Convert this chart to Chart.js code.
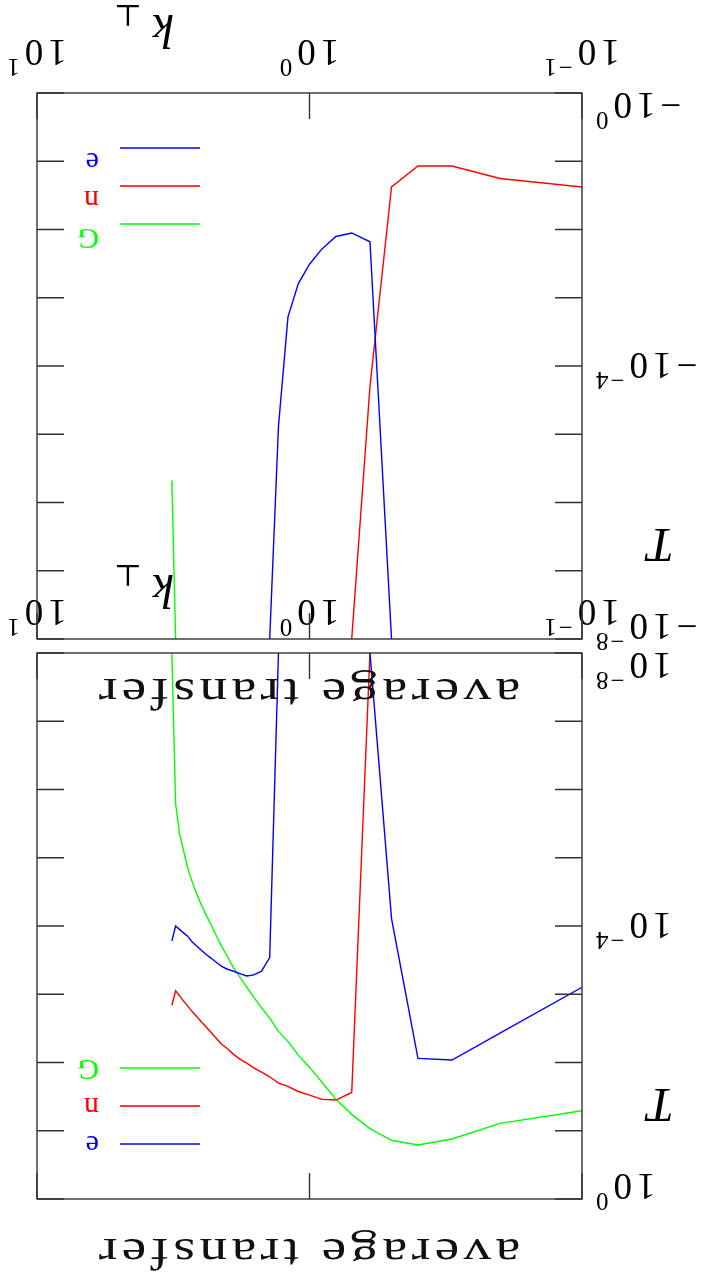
<!DOCTYPE html>
<html>
<head>
<meta charset="utf-8">
<script src="https://cdn.jsdelivr.net/npm/chart.js@4.4.1/dist/chart.umd.min.js"></script>
<style>
html, body { margin: 0; padding: 0; background: #fff; overflow: hidden; }
#fig { position: relative; width: 704px; height: 1279px; overflow: hidden; background: #fff; transform: rotate(180deg); }
#fig canvas { position: absolute; left: 0; }
#posChart { top: 0; }
#negChart { top: 560px; }
</style>
</head>
<body>
<div id="fig">
  <canvas id="posChart" width="704" height="720"></canvas>
  <canvas id="negChart" width="704" height="720"></canvas>
</div>
<script>
// perpendicular wavenumber grid
var kPerp = [0.1, 0.2, 0.3, 0.4, 0.5, 0.6, 0.7, 0.8, 0.9, 1.0,
             1.1, 1.2, 1.3, 1.4, 1.5, 1.6, 1.7, 1.8, 1.9, 2.0,
             2.1, 2.2, 2.3, 2.4, 2.5, 2.6, 2.7, 2.8, 2.9, 3.0,
             3.1, 3.2];

// average transfer T (signed) for each species
var transferE = [7.9e-4, 3.7e-3, 9.2e-3, 8.7e-3, 7.8e-5, -6.6e-3, -8.9e-3, -7.9e-3, -5.2e-3, -3.1e-3,
                 -1.6e-3, -5.2e-4, -1.3e-5, 2.9e-4, 4.6e-4, 5.2e-4, 5.4e-4, 5.0e-4, 4.6e-4, 4.3e-4,
                 3.9e-4, 3.4e-4, 2.95e-4, 2.6e-4, 2.24e-4, 1.95e-4, 1.7e-4, 1.41e-4, 1.26e-4, 1.12e-4,
                 1.0e-4, 1.66e-4];
var transferN = [-4.2e-2, -5.6e-2, -8.5e-2, -8.5e-2, -4.2e-2, -5.0e-5, 2.75e-2, 3.55e-2, 3.47e-2, 3.0e-2,
                 2.66e-2, 2.24e-2, 2.0e-2, 1.62e-2, 1.38e-2, 1.2e-2, 1.02e-2, 8.9e-3, 7.6e-3, 6.3e-3,
                 5.4e-3, 4.4e-3, 3.6e-3, 3.0e-3, 2.5e-3, 2.1e-3, 1.78e-3, 1.48e-3, 1.26e-3, 1.05e-3,
                 8.9e-4, 1.45e-3];
var transferG = [5.1e-2, 7.8e-2, 0.132, 0.162, 0.138, 9.3e-2, 5.75e-2, 3.47e-2, 1.95e-2, 1.17e-2,
                 7.8e-3, 4.9e-3, 3.5e-3, 2.24e-3, 1.58e-3, 1.11e-3, 7.85e-4, 5.6e-4, 4.1e-4, 2.8e-4,
                 2.0e-4, 1.38e-4, 9.5e-5, 6.8e-5, 4.8e-5, 3.3e-5, 2.2e-5, 1.41e-5, 7.8e-6, 4.4e-6,
                 1.62e-6, -2.1e-6];

var speciesNames = ['e', 'n', 'G'];
var speciesColors = ['#0000ff', '#ff0000', '#00ff00'];
var speciesValues = [transferE, transferN, transferG];

var xTickValues = [0.1, 1, 10];
var xTickExps = ['\u22121', '0', '1'];
var yTickExps = [0, -4, -8];

var FLOOR = 1e-8;
var SERIF = "'Liberation Serif', 'DejaVu Serif', serif";

// values of one sign, the rest pushed down to the bottom of the log axis
function sideData(values, sign) {
  return kPerp.map(function (k, i) {
    var v = values[i] * sign;
    return { x: k, y: v > 0 ? v : FLOOR };
  });
}

// text drawn a bit wider than the font, with extra tracking
function wideText(ctx, txt, x, y, spacing, stretch, align) {
  ctx.letterSpacing = spacing + 'px';
  var w = (ctx.measureText(txt).width - spacing) * stretch;
  var x0 = align === 'center' ? x - w / 2 : (align === 'right' ? x - w : x);
  ctx.save();
  ctx.translate(x0, y);
  ctx.scale(stretch, 1);
  ctx.textAlign = 'left';
  ctx.fillText(txt, 0, 0);
  ctx.restore();
  ctx.letterSpacing = '0px';
  return w;
}

// "10" with a raised exponent
function powerLabel(ctx, base, exp, x, baseline, align) {
  ctx.font = '37px ' + SERIF;
  ctx.letterSpacing = '5px';
  var wb = ctx.measureText(base).width - 5;
  ctx.font = '25px ' + SERIF;
  ctx.letterSpacing = '2px';
  var we = ctx.measureText(exp).width - 2;
  var total = wb + 5 + we;
  var x0 = align === 'center' ? x - total / 2 : x - total;
  ctx.textAlign = 'left';
  ctx.textBaseline = 'alphabetic';
  ctx.font = '37px ' + SERIF;
  ctx.letterSpacing = '5px';
  ctx.fillText(base, x0, baseline);
  ctx.font = '25px ' + SERIF;
  ctx.letterSpacing = '2px';
  ctx.fillText(exp, x0 + wb + 5, baseline - 19);
  ctx.letterSpacing = '0px';
}

function framePlugin(negative) {
  return {
    id: 'frame',
    afterDatasetsDraw: function (chart) {
      var ctx = chart.ctx, a = chart.chartArea;
      var xs = chart.scales.x, ys = chart.scales.y;
      ctx.save();
      ctx.strokeStyle = '#333';
      ctx.lineWidth = 1.4;
      ctx.strokeRect(a.left, a.top, a.right - a.left, a.bottom - a.top);

      // inward decade ticks on all four sides
      ctx.beginPath();
      for (var p = -8; p <= 0; p++) {
        var y = ys.getPixelForValue(Math.pow(10, p));
        ctx.moveTo(a.left, y); ctx.lineTo(a.left + 27, y);
        ctx.moveTo(a.right, y); ctx.lineTo(a.right - 27, y);
      }
      xTickValues.forEach(function (v) {
        var x = xs.getPixelForValue(v);
        ctx.moveTo(x, a.top); ctx.lineTo(x, a.top + 26);
        ctx.moveTo(x, a.bottom); ctx.lineTo(x, a.bottom - 26);
      });
      ctx.stroke();

      ctx.fillStyle = '#000';
      // y tick labels
      yTickExps.forEach(function (e) {
        var y = ys.getPixelForValue(Math.pow(10, e));
        var base = y;
        if (Math.abs(y - a.top) < 2) base = y + 25;
        else if (Math.abs(y - a.bottom) >= 2) base = y + 12.5;
        var expTxt = e < 0 ? '\u2212' + (-e) : String(e);
        powerLabel(ctx, negative ? '\u221210' : '10', expTxt, a.left - 14, base, 'right');
      });
      // x tick labels
      xTickValues.forEach(function (v, i) {
        powerLabel(ctx, '10', xTickExps[i], xs.getPixelForValue(v), a.bottom + 53, 'center');
      });

      // titles
      ctx.textBaseline = 'alphabetic';
      ctx.fillStyle = '#111';
      ctx.font = '44px ' + SERIF;
      wideText(ctx, 'average transfer', (a.left + a.right) / 2, a.top - 40, 3.5, 1.26, 'center');
      ctx.fillStyle = '#000';
      ctx.font = 'italic 48px ' + SERIF;
      ctx.textAlign = 'left';
      ctx.fillText('T', 30, a.top + 110);
      ctx.fillText('k', 530, a.bottom + 78);
      ctx.font = "30px 'DejaVu Serif', serif";
      ctx.fillText('\u22a5', 562, a.bottom + 88);

      // legend
      ctx.lineWidth = 1.4;
      ctx.font = '30px ' + SERIF;
      speciesNames.forEach(function (name, i) {
        var ly = negative ? a.bottom - 55 - 38 * i : a.top + 55 + 38 * i;
        ctx.strokeStyle = speciesColors[i];
        ctx.beginPath();
        ctx.moveTo(a.right - 163, ly);
        ctx.lineTo(a.right - 83, ly);
        ctx.stroke();
        ctx.fillStyle = speciesColors[i];
        ctx.textBaseline = negative ? 'alphabetic' : 'middle';
        ctx.fillText(name, a.right - 62, negative ? ly - 5 : ly);
      });
      ctx.restore();
    }
  };
}

function makeChart(id, negative) {
  var sign = negative ? -1 : 1;
  var datasets = speciesNames.map(function (name, i) {
    return {
      label: name,
      data: sideData(speciesValues[i], sign),
      borderColor: speciesColors[i],
      borderWidth: 1.4,
      pointRadius: 0,
      tension: 0,
      fill: false,
      segment: {
        // hide the runs that sit on the floor of the axis
        borderColor: function (c) {
          if (c.p0.parsed.y <= FLOOR && c.p1.parsed.y <= FLOOR) return 'rgba(0,0,0,0)';
        }
      }
    };
  });
  return new Chart(document.getElementById(id), {
    type: 'line',
    data: { datasets: datasets },
    options: {
      responsive: false,
      animation: false,
      devicePixelRatio: 1,
      layout: { padding: { left: 122, right: 37, top: 80, bottom: 94 } },
      plugins: { legend: { display: false }, title: { display: false }, tooltip: { enabled: false } },
      scales: {
        x: { type: 'logarithmic', min: 0.1, max: 10, display: false },
        y: { type: 'logarithmic', min: FLOOR, max: 1, reverse: negative, display: false }
      }
    },
    plugins: [framePlugin(negative)]
  });
}

makeChart('posChart', false);
makeChart('negChart', true);
</script>
</body>
</html>
